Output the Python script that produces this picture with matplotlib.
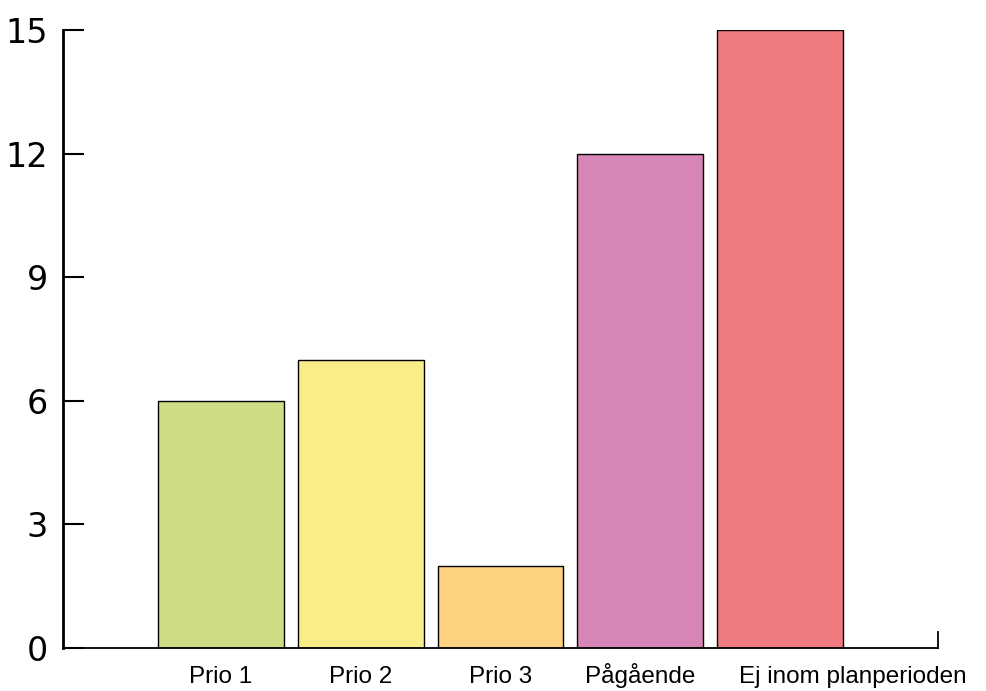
import matplotlib
matplotlib.use("Agg")
import matplotlib.pyplot as plt
from matplotlib.transforms import ScaledTranslation

categories = ["Prio 1", "Prio 2", "Prio 3", "Pågående", "Ej inom planperioden"]
values = [6, 7, 2, 12, 15]
colors = ["#cfdc84", "#f8ed86", "#fdd280", "#d785b6", "#ef7b80"]
yticks = [0, 3, 6, 9, 12, 15]

fig = plt.figure(figsize=(9.86, 6.91), dpi=100)
ax = fig.add_axes([63/986, 1-648/691, (938-63)/986, (648-30)/691])

x = list(range(len(categories)))
ax.bar(x, values, width=0.9, color=colors, edgecolor="black", linewidth=1.0, zorder=2)

xmin, xmax = -1.129, 5.129
ax.set_xlim(xmin, xmax)
ax.set_ylim(0, 15)

ax.spines["top"].set_visible(False)
ax.spines["right"].set_visible(False)
ax.spines["left"].set_linewidth(2.0)
ax.spines["bottom"].set_linewidth(1.3)
ax.spines["bottom"].set_zorder(3)

ax.set_yticks(yticks)
ax.set_yticklabels([str(v) for v in yticks], fontsize=24, family="DejaVu Sans")
ax.tick_params(axis="y", direction="in", length=15, width=1.5, pad=11)

ax.set_xticks(x)
ax.set_xticklabels(categories, fontsize=17.5, family="Liberation Sans", va="baseline")
ax.tick_params(axis="x", length=0, pad=25)

# last label is shifted right to avoid overlapping its neighbour
last = ax.get_xticklabels()[-1]
last.set_transform(last.get_transform() + ScaledTranslation(0.73, 0, fig.dpi_scale_trans))

# small end tick at the right end of the x axis
ax.plot([xmax, xmax], [0, 0.4], color="black", linewidth=1.3, clip_on=False, zorder=3)

fig.savefig("out.png", dpi=100)
